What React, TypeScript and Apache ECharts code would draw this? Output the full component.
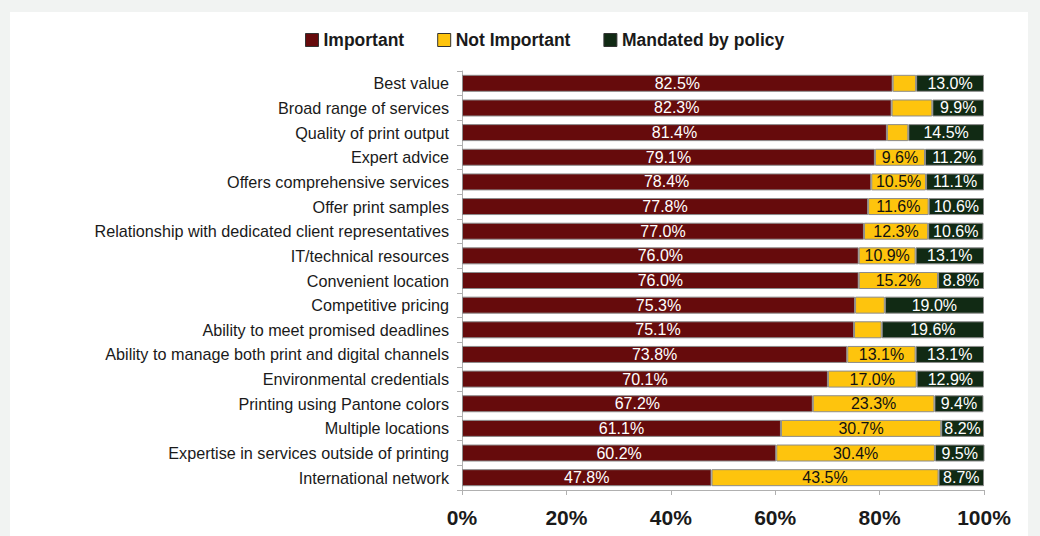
import React, { useEffect, useRef } from "react";
import * as echarts from "echarts";

const categories = [
  "Best value",
  "Broad range of services",
  "Quality of print output",
  "Expert advice",
  "Offers comprehensive services",
  "Offer print samples",
  "Relationship with dedicated client representatives",
  "IT/technical resources",
  "Convenient location",
  "Competitive pricing",
  "Ability to meet promised deadlines",
  "Ability to manage both print and digital channels",
  "Environmental credentials",
  "Printing using Pantone colors",
  "Multiple locations",
  "Expertise in services outside of printing",
  "International network",
];

const important = [82.5, 82.3, 81.4, 79.1, 78.4, 77.8, 77.0, 76.0, 76.0, 75.3, 75.1, 73.8, 70.1, 67.2, 61.1, 60.2, 47.8];
const notImportant = [4.5, 7.8, 4.1, 9.6, 10.5, 11.6, 12.3, 10.9, 15.2, 5.7, 5.3, 13.1, 17.0, 23.3, 30.7, 30.4, 43.5];
const mandated = [13.0, 9.9, 14.5, 11.2, 11.1, 10.6, 10.6, 13.1, 8.8, 19.0, 19.6, 13.1, 12.9, 9.4, 8.2, 9.5, 8.7];
const xTicks = [0, 20, 40, 60, 80, 100];

const FONT = "'Liberation Sans', Arial, sans-serif";

export default function App() {
  const ref = useRef<HTMLDivElement>(null);
  useEffect(() => {
    if (!ref.current) return;
    const chart = echarts.init(ref.current, undefined, { renderer: "svg" });
    const labelBase = {
      show: true,
      position: "inside",
      fontFamily: FONT,
      fontSize: 16,
    };
    const fmt = (min: number) => (p: any) => (p.value >= min ? p.value.toFixed(1) + "%" : "");
    const itemBase = { borderColor: "#8c8c8c", borderWidth: 1 };
    chart.setOption({
      animation: false,
      backgroundColor: "#ffffff",
      textStyle: { fontFamily: FONT },
      legend: {
        top: 14,
        left: 290,
        itemWidth: 13,
        itemHeight: 13,
        itemGap: 33,
        icon: "rect",
        textStyle: { fontFamily: FONT, fontSize: 17.5, fontWeight: "bold", color: "#1a1a1a" },
        data: [
          { name: "Important", itemStyle: { borderColor: "#333", borderWidth: 1 } },
          { name: "Not Important", itemStyle: { borderColor: "#333", borderWidth: 1 } },
          { name: "Mandated by policy", itemStyle: { borderColor: "#333", borderWidth: 1 } },
        ],
      },
      grid: { left: 452, right: 44, top: 59, bottom: 46, containLabel: false },
      xAxis: {
        type: "value",
        min: 0,
        max: 100,
        interval: 20,
        axisLine: { show: true, lineStyle: { color: "#b0b0b0" } },
        axisTick: { show: true, length: 5, lineStyle: { color: "#b0b0b0" } },
        splitLine: { show: false },
        axisLabel: {
          margin: 17,
          fontFamily: FONT,
          fontSize: 21,
          fontWeight: "bold",
          color: "#1a1a1a",
          formatter: (v: number) => (xTicks.includes(v) ? v + "%" : ""),
        },
      },
      yAxis: {
        type: "category",
        inverse: true,
        data: categories,
        axisLine: { show: true, lineStyle: { color: "#b0b0b0" } },
        axisTick: { show: true, length: 5, lineStyle: { color: "#b0b0b0" } },
        axisLabel: { margin: 13, fontFamily: FONT, fontSize: 16.2, color: "#1a1a1a" },
      },
      series: [
        {
          name: "Important",
          type: "bar",
          stack: "total",
          data: important,
          barWidth: 17,
          itemStyle: { color: "#660b0c", ...itemBase },
          label: { ...labelBase, color: "#ffffff", formatter: fmt(0) },
        },
        {
          name: "Not Important",
          type: "bar",
          stack: "total",
          data: notImportant,
          barWidth: 17,
          itemStyle: { color: "#fec40d", ...itemBase },
          label: { ...labelBase, color: "#111111", formatter: fmt(9) },
        },
        {
          name: "Mandated by policy",
          type: "bar",
          stack: "total",
          data: mandated,
          barWidth: 17,
          itemStyle: { color: "#112a14", ...itemBase },
          label: { ...labelBase, color: "#ffffff", formatter: fmt(0) },
        },
      ],
    });
    return () => chart.dispose();
  }, []);
  return (
    <div style={{ position: "fixed", left: 0, top: 0, width: 1040, height: 536, background: "#f1f3f2" }}>
      <div ref={ref} style={{ position: "absolute", left: 10, top: 12, width: 1018, height: 524 }} />
    </div>
  );
}
